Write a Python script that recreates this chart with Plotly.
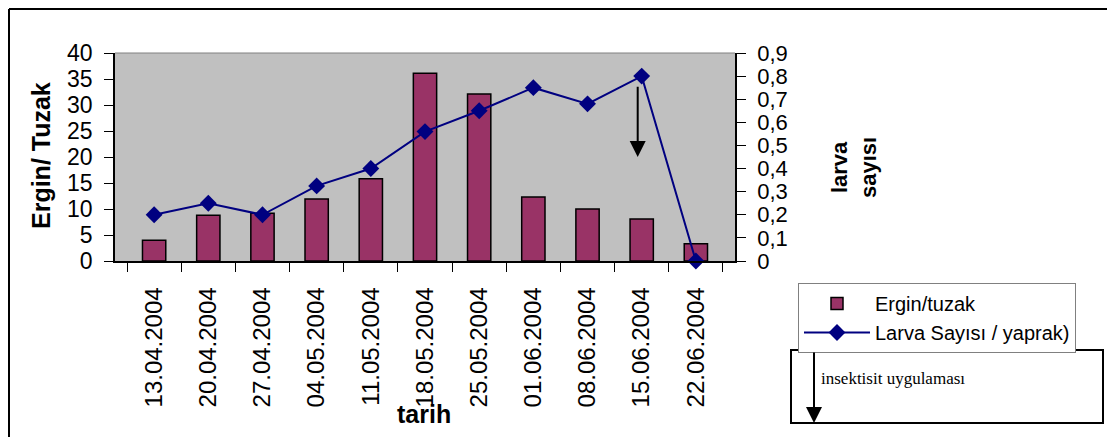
import plotly.graph_objects as go

# sampling dates (category axis)
tarih = ['13.04.2004', '20.04.2004', '27.04.2004', '04.05.2004', '11.05.2004',
         '18.05.2004', '25.05.2004', '01.06.2004', '08.06.2004', '15.06.2004',
         '22.06.2004']

# adults per trap (left axis)
ergin_tuzak = [4, 8.8, 9.2, 11.9, 15.8, 36.1, 32.1, 12.3, 10, 8.1, 3.3]

# larvae per leaf (right axis)
larva_sayisi = [0.2, 0.25, 0.2, 0.325, 0.4, 0.56, 0.65, 0.75, 0.68, 0.8, 0]

right_ticks = [0, 0.1, 0.2, 0.3, 0.4, 0.5, 0.6, 0.7, 0.8, 0.9]
right_ticktext = ['0', '0,1', '0,2', '0,3', '0,4', '0,5', '0,6', '0,7', '0,8', '0,9']

FONT = 'Liberation Sans, Arial, sans-serif'

# plot area in page pixels: x 115..735, y 53..261
# (the html body adds an 8px margin, so the figure itself is offset by 8)
def px(x):
    return (x - 115) / 620.0


def py(y):
    return (261 - y) / 208.0


fig = go.Figure()

fig.add_trace(go.Bar(
    x=tarih, y=ergin_tuzak, name='Ergin/tuzak',
    marker=dict(color='#993366', line=dict(color='black', width=1.5)),
))

fig.add_trace(go.Scatter(
    x=tarih, y=larva_sayisi, name='Larva Sayısı / yaprak)', yaxis='y2',
    mode='lines+markers',
    line=dict(color='#000080', width=2),
    marker=dict(symbol='diamond', size=13, color='#000080'),
    cliponaxis=False,
))

fig.update_layout(
    width=1107, height=429,
    margin=dict(l=107, r=380, t=45, b=176),
    paper_bgcolor='white', plot_bgcolor='#C0C0C0',
    font=dict(family=FONT, size=21, color='black'),
    bargap=0.57,
    showlegend=True,
    legend=dict(
        x=px(798), y=py(283), xanchor='left', yanchor='top',
        bgcolor='white', bordercolor='#808080', borderwidth=1,
        font=dict(size=20), tracegroupgap=0, itemwidth=66,
    ),
    xaxis=dict(
        type='category', tickson='boundaries', ticks='outside', ticklen=9,
        tickcolor='black', showline=True, linecolor='black', linewidth=1.5,
        tickangle=-90, tickfont=dict(size=24), showgrid=False,
        automargin=False, ticklabelstandoff=15,
    ),
    yaxis=dict(
        range=[0, 40], dtick=5, ticks='outside', ticklen=9, tickcolor='black',
        showline=True, linecolor='black', linewidth=1.5, showgrid=False,
        zeroline=False, tickfont=dict(size=23), automargin=False,
        ticklabelstandoff=7,
    ),
    yaxis2=dict(
        range=[0, 0.9], overlaying='y', side='right',
        tickvals=right_ticks, ticktext=right_ticktext,
        ticks='outside', ticklen=9, tickcolor='black',
        showline=True, linecolor='black', linewidth=1.5, showgrid=False,
        zeroline=False, tickfont=dict(size=22), automargin=False,
        ticklabelstandoff=7,
    ),
)

# plot area top edge (grey)
fig.add_shape(type='line', xref='paper', yref='paper', x0=0, x1=1, y0=1, y1=1,
              line=dict(color='#808080', width=1))

# outer chart border (left and top visible)
fig.add_shape(type='line', xref='paper', yref='paper',
              x0=px(9), x1=px(9), y0=py(9), y1=py(450),
              line=dict(color='black', width=2))
fig.add_shape(type='line', xref='paper', yref='paper',
              x0=px(9), x1=px(1130), y0=py(9), y1=py(9),
              line=dict(color='black', width=2))

# axis titles
fig.add_annotation(text='<b>Ergin/ Tuzak</b>', textangle=-90,
                   xref='paper', yref='paper', x=px(41), y=py(156),
                   xanchor='center', yanchor='middle',
                   showarrow=False, font=dict(size=25))
fig.add_annotation(text='<b>larva<br>sayısı</b>', textangle=-90,
                   xref='paper', yref='paper', x=px(854), y=py(168),
                   xanchor='center', yanchor='middle',
                   showarrow=False, font=dict(size=22))
fig.add_annotation(text='<b>tarih</b>', xref='paper', yref='paper',
                   x=px(424), y=py(414), xanchor='center', yanchor='middle',
                   showarrow=False, font=dict(size=25))

# insecticide application arrow in the plot
fig.add_annotation(x='15.06.2004', y=0.45, yref='y2', xref='x',
                   ax='15.06.2004', ay=0.76, axref='x', ayref='y2',
                   showarrow=True, arrowhead=2, arrowsize=1.6, arrowwidth=2,
                   arrowcolor='black', text='', xshift=-4)

# explanation box
fig.add_shape(type='rect', xref='paper', yref='paper',
              x0=px(791), x1=px(1103), y0=py(350), y1=py(423),
              line=dict(color='black', width=2), fillcolor='white')
fig.add_annotation(xref='paper', yref='paper', x=px(814), y=py(423),
                   ax=0, ay=-72, axref='pixel', ayref='pixel',
                   showarrow=True, arrowhead=2, arrowsize=1.6, arrowwidth=2,
                   arrowcolor='black', text='')
fig.add_annotation(text='insektisit uygulaması', xref='paper', yref='paper',
                   x=px(819), y=py(378), xanchor='left', yanchor='middle',
                   showarrow=False,
                   font=dict(family='Liberation Serif, Times New Roman, serif',
                             size=17))

fig.write_html('out.html')
